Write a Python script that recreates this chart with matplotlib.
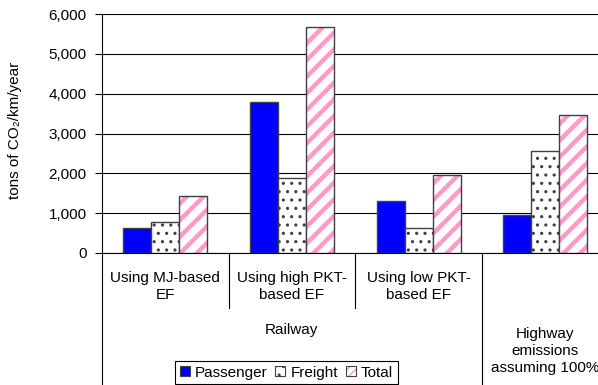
import matplotlib
matplotlib.use("Agg")
import matplotlib.pyplot as plt
import numpy as np
from matplotlib.patches import Patch
from matplotlib.legend_handler import HandlerTuple

plt.rcParams['font.family'] = ['Liberation Sans', 'DejaVu Sans']
plt.rcParams['font.size'] = 11

# data
groups = ["Using MJ-based\nEF", "Using high PKT-\nbased EF", "Using low PKT-\nbased EF", ""]
passenger = [630, 3780, 1310, 945]
freight = [790, 1880, 630, 2570]
total = [1420, 5670, 1950, 3475]
yticks = [0, 1000, 2000, 3000, 4000, 5000, 6000]

W, H = 598, 385
fig = plt.figure(figsize=(W / 100, H / 100), dpi=100)
# plot area runs a bit past the right edge, as in the reference
ax = fig.add_axes([102 / W, (H - 253) / H, 506.5 / W, 239 / H])

x = np.arange(len(groups))
bw = 0.221
edge = '#404040'
pink = '#FF99CC'

ax.bar(x - bw, passenger, bw, color='#0000FF', edgecolor=edge, linewidth=1, zorder=3)

with plt.rc_context({'hatch.linewidth': 1.1}):
    fb = ax.bar(x, freight, bw, color='white', edgecolor=edge, hatch='..', linewidth=1, zorder=3)
with plt.rc_context({'hatch.linewidth': 3.2}):
    tb = ax.bar(x + bw, total, bw, color='white', edgecolor=pink, hatch='//', linewidth=0, zorder=3)
ax.bar(x + bw, total, bw, fill=False, edgecolor=edge, linewidth=1, zorder=4)

for p in fb:
    if hasattr(p, 'set_hatch_linewidth'):
        p.set_hatch_linewidth(1.1)
for p in tb:
    if hasattr(p, 'set_hatch_linewidth'):
        p.set_hatch_linewidth(3.2)

ax.set_xlim(-0.5, 3.5)
ax.set_ylim(0, 6000)
ax.set_yticks(yticks)
ax.set_yticklabels([f"{v:,}" for v in yticks])
ax.set_xticks([])
ax.tick_params(axis='y', length=5, width=0.8, pad=6, color='black')
ax.yaxis.grid(True, color='black', linewidth=0.8)
ax.set_axisbelow(True)
for s in ['top', 'right']:
    ax.spines[s].set_visible(False)
ax.spines['left'].set_linewidth(0.8)
ax.spines['bottom'].set_linewidth(0.8)

# category labels below the axis
trans = ax.get_xaxis_transform()
for i, g in enumerate(groups):
    if g:
        ax.text(i, -0.14, g, transform=trans, ha='center', va='center',
                linespacing=1.3, clip_on=False)
ax.text(1, -0.322, "Railway", transform=trans, ha='center', va='center', clip_on=False)
ax.text(3, -0.41, "Highway\nemissions\nassuming 100%", transform=trans, ha='center',
        va='center', linespacing=1.3, clip_on=False)

for bx, bottom in [(0.5, -0.23), (1.5, -0.23), (2.5, -0.6), (-0.5, -0.6)]:
    ax.plot([bx, bx], [0, bottom], transform=trans, color='black', linewidth=0.8, clip_on=False)

fig.text(15 / W, 1 - 130 / H, "tons of CO\u2082/km/year", rotation=90, ha='center', va='center')

h_pass = Patch(facecolor='#0000FF', edgecolor=edge, linewidth=0.8)
with plt.rc_context({'hatch.linewidth': 1.0}):
    h_fr = Patch(facecolor='white', edgecolor=edge, hatch='..', linewidth=0.8)
    h_tot_fill = Patch(facecolor='white', edgecolor=pink, hatch='////', linewidth=0)
h_tot_edge = Patch(fill=False, edgecolor=edge, linewidth=0.8)
leg = fig.legend([h_pass, h_fr, (h_tot_fill, h_tot_edge)], ["Passenger", "Freight", "Total"],
                 handler_map={tuple: HandlerTuple(ndivide=1)},
                 loc='upper left', bbox_to_anchor=(175 / W, 1 - 361 / H), ncol=3,
                 frameon=True, fancybox=False, edgecolor='black', framealpha=1,
                 handlelength=0.65, handleheight=0.65, handletextpad=0.35,
                 columnspacing=0.5, borderpad=0.3, borderaxespad=0)
leg.get_frame().set_linewidth(0.8)

fig.savefig("out.png", dpi=100)
